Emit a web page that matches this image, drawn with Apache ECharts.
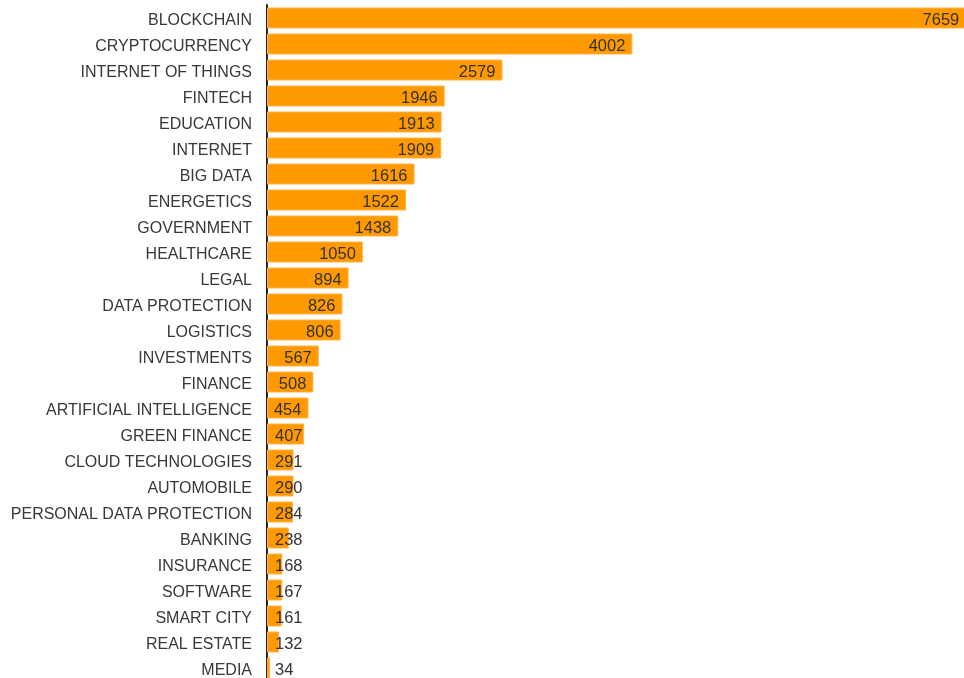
<!DOCTYPE html>
<html>
<head>
<meta charset="utf-8">
<script src="https://cdn.jsdelivr.net/npm/echarts@6/dist/echarts.min.js"></script>
<style>
  html, body { margin: 0; padding: 0; background: #fff; }
  #chart { width: 964px; height: 678px; }
</style>
</head>
<body>
<div id="chart"></div>
<script>
// Topic categories, top to bottom
const categories = [
  'BLOCKCHAIN', 'CRYPTOCURRENCY', 'INTERNET OF THINGS', 'FINTECH', 'EDUCATION',
  'INTERNET', 'BIG DATA', 'ENERGETICS', 'GOVERNMENT', 'HEALTHCARE', 'LEGAL',
  'DATA PROTECTION', 'LOGISTICS', 'INVESTMENTS', 'FINANCE', 'ARTIFICIAL INTELLIGENCE',
  'GREEN FINANCE', 'CLOUD TECHNOLOGIES', 'AUTOMOBILE', 'PERSONAL DATA PROTECTION',
  'BANKING', 'INSURANCE', 'SOFTWARE', 'SMART CITY', 'REAL ESTATE', 'MEDIA'
];
// Count per topic
const counts = [
  7659, 4002, 2579, 1946, 1913, 1909, 1616, 1522, 1438, 1050, 894,
  826, 806, 567, 508, 454, 407, 291, 290, 284, 238, 168, 167, 161, 132, 34
];

const chart = echarts.init(document.getElementById('chart'), null, { renderer: 'canvas' });

// Value axis spans a bit past the largest bar; the plot runs off the right edge
const axisMax = 7700;
const plotWidth = 703;
const FONT = 'Liberation Sans, Arial, sans-serif';

// Short bars get their label anchored at the left, longer ones at the bar end
const barData = counts.map(v => {
  const px = v / axisMax * plotWidth;
  const shortBar = px < 40;
  return {
    value: v,
    label: shortBar
      ? { position: 'insideLeft', distance: 8 }
      : { position: 'insideRight', distance: 7 }
  };
});

chart.setOption({
  animation: false,
  grid: {
    left: 267, width: plotWidth, top: 5, height: 676,
    containLabel: false, outerBoundsMode: 'none'
  },
  xAxis: {
    type: 'value', min: 0, max: axisMax, show: false
  },
  yAxis: {
    type: 'category',
    inverse: true,
    data: categories,
    axisLine: { show: true, lineStyle: { color: '#222', width: 2 } },
    axisTick: { show: false },
    axisLabel: {
      color: '#383838', fontFamily: FONT,
      fontSize: 16, margin: 15,
      // a short top-aligned line box drops the text slightly below the band centre
      verticalAlign: 'top', lineHeight: 6
    }
  },
  series: [{
    type: 'bar',
    data: barData,
    barWidth: 21,
    itemStyle: { color: '#FF9900', borderColor: '#FFB347', borderWidth: 1 },
    label: {
      show: true, color: '#333', fontFamily: FONT,
      fontSize: 16.5, offset: [0, 2]
    }
  }]
});
</script>
</body>
</html>
